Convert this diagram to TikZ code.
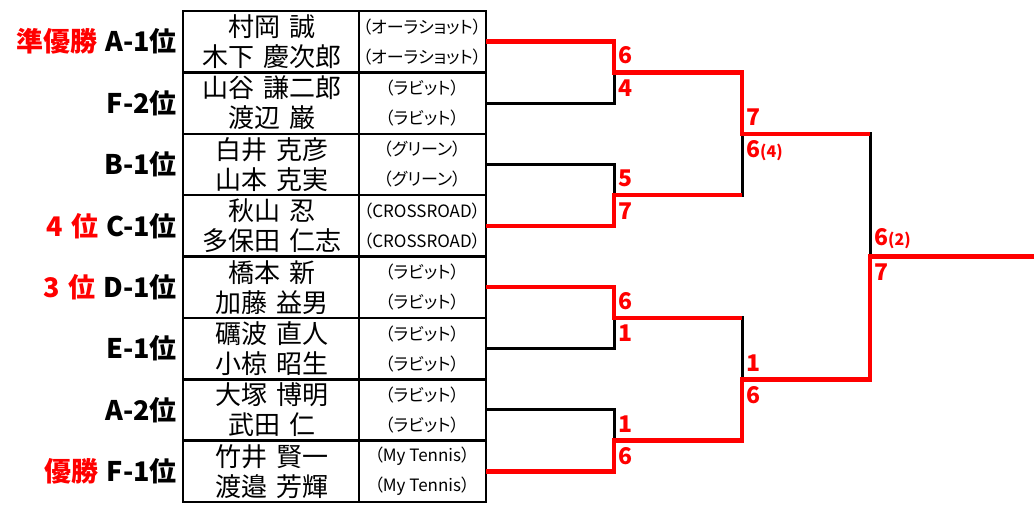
\documentclass[tikz,border=0pt]{standalone}
\usepackage{fontspec}
\setmainfont{Noto Sans CJK JP}
\newfontfamily\clubfont[RawFeature=+palt]{Noto Sans CJK JP}
\usepackage{tikz}
\colorlet{winr}{red}
\newcommand{\pl}[1]{\textcolor{winr}{#1}}
\newcommand{\tb}[1]{{\fontsize{16}{17}\selectfont #1}}

\begin{document}
\begin{tikzpicture}[x=1pt,y=-1pt,
    team/.style={font={\bfseries\fontsize{27}{30}\selectfont\spaceskip=8pt\relax}, anchor=east, inner sep=0pt},
    player/.style={font={\fontsize{26}{28}\selectfont\spaceskip=9pt\relax}, inner sep=0pt},
    club/.style={font=\clubfont\fontsize{17}{19}\selectfont, inner sep=0pt},
    score/.style={font=\bfseries\fontsize{23}{24}\selectfont, text=winr, inner sep=1pt},
    hi/.style={score, anchor=south west, xshift=3pt, yshift=7pt},
    lo/.style={score, anchor=north west, xshift=3pt, yshift=-6pt},
    tablebox/.style={line width=2.5pt},
    lose/.style={line width=3pt},
    win/.style={winr, line width=4.5pt}]
            \useasboundingbox (0,0) rectangle (1034,507);

            \draw [tablebox] (183,11) rectangle (486,502);
            \draw [tablebox] (359,11) -- (359,502);
            \foreach \i in {1,...,7} {
                \draw [tablebox] (183,{11+61.375*\i}) -- (486,{11+61.375*\i});
            }

            \foreach \i/\team/\na/\nb/\club in {
                1/{\pl{準優勝} A-1位}/村岡 誠/木下 慶次郎/オーラショット,
                2/{F-2位}/山谷 謙二郎/渡辺 巌/ラビット,
                3/{B-1位}/白井 克彦/山本 克実/グリーン,
                4/{\pl{4 位} C-1位}/秋山 忍/多保田 仁志/CROSSROAD,
                5/{\pl{3 位} D-1位}/橋本 新/加藤 益男/ラビット,
                6/{E-1位}/礪波 直人/小椋 昭生/ラビット,
                7/{A-2位}/大塚 博明/武田 仁/ラビット,
                8/{\pl{優勝} F-1位}/竹井 賢一/渡邉 芳輝/My Tennis} {
                \coordinate (e\i) at (486,{11+61.375*(\i-0.5)});
                \node [team] (t\i) at (177,{11+61.375*(\i-0.5)}) {\team};
                \node [player] (pa\i) at (272,{11+61.375*(\i-0.5)-15}) {\na};
                \node [player] (pb\i) at (272,{11+61.375*(\i-0.5)+15}) {\nb};
                \node [club] (ca\i) at (422,{11+61.375*(\i-0.5)-15}) {（\club）};
                \node [club] (cb\i) at (422,{11+61.375*(\i-0.5)+15}) {（\club）};
            }

            \foreach \j in {1,...,4} {
                \coordinate (m\j) at (614,{11+61.375*(2*\j-1)});
            }
            \coordinate (s1) at (742,{11+61.375*2});
            \coordinate (s2) at (742,{11+61.375*6});
            \coordinate (f) at (870,{11+61.375*4});
            \coordinate (w) at (1034,{11+61.375*4});

            \foreach \j/\a/\b in {1/1/2,2/3/4,3/5/6,4/7/8} {
                \draw [lose] (e\a) -| (m\j) |- (e\b);
            }
            \draw [lose] (m1) -| (s1) |- (m2);
            \draw [lose] (m3) -| (s2) |- (m4);
            \draw [lose] (s1) -| (f) |- (s2);

            \draw [win] (e1) -| (m1) -| (s1) -- (s1 -| f);
            \draw [win] (e4) -| (m2) -- (m2 -| s1);
            \draw [win] (e5) -| (m3) -- (m3 -| s2);
            \draw [win] (e8) -| (m4) -| (s2) -| (f) -- (w);

            \node [hi] (r1a) at (m1) {6};
            \node [lo] (r1b) at (m1) {4};
            \node [hi] (r2a) at (m2) {5};
            \node [lo] (r2b) at (m2) {7};
            \node [hi] (r3a) at (m3) {6};
            \node [lo] (r3b) at (m3) {1};
            \node [hi] (r4a) at (m4) {1};
            \node [lo] (r4b) at (m4) {6};
            \node [hi] (q1a) at (s1) {7};
            \node [lo] (q1b) at (s1) {6\tb{(4)}};
            \node [hi] (q2a) at (s2) {1};
            \node [lo] (q2b) at (s2) {6};
            \node [hi] (fa) at (f) {6\tb{(2)}};
            \node [lo] (fb) at (f) {7};
        \end{tikzpicture}
\end{document}
